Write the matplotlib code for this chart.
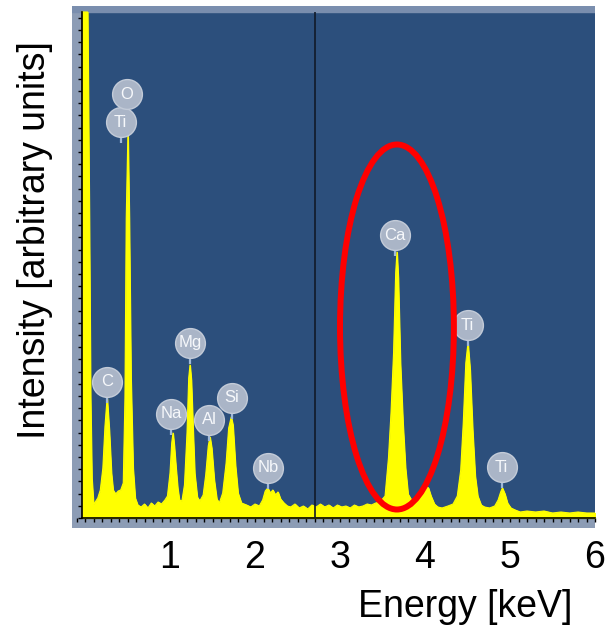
import numpy as np
import matplotlib
matplotlib.use('Agg')
import matplotlib.pyplot as plt
from matplotlib.patches import Ellipse, Rectangle
from matplotlib.ticker import FixedLocator, MultipleLocator

plt.rcParams['font.family'] = ['Liberation Sans', 'DejaVu Sans']

# EDX spectrum (energy in keV, intensity in arbitrary units)
energy = [-0.035, 0.03, 0.05, 0.065, 0.08, 0.10, 0.12,
          0.15, 0.18, 0.21, 0.235, 0.26, 0.285, 0.31, 0.33, 0.36,
          0.39, 0.42, 0.45,
          0.47, 0.485, 0.505, 0.52, 0.54, 0.565, 0.59, 0.62,
          0.66, 0.70, 0.74, 0.78, 0.82, 0.86, 0.90, 0.94,
          0.97, 1.00, 1.02, 1.035, 1.05, 1.07, 1.09, 1.11, 1.14,
          1.17, 1.20, 1.22, 1.235, 1.25, 1.27, 1.29, 1.32,
          1.35, 1.39,
          1.42, 1.45, 1.47, 1.49, 1.52, 1.55, 1.58,
          1.62, 1.66, 1.69, 1.72, 1.74, 1.77, 1.80, 1.84,
          1.90, 1.95, 2.00, 2.05,
          2.09, 2.12, 2.15, 2.18, 2.21, 2.24, 2.27, 2.30, 2.34, 2.38,
          2.42, 2.47, 2.52, 2.57, 2.62, 2.67, 2.72, 2.77, 2.82, 2.87,
          2.92, 2.97, 3.02, 3.07, 3.12, 3.17, 3.22, 3.27, 3.32, 3.37, 3.42,
          3.47, 3.53, 3.57, 3.60, 3.63, 3.655, 3.67, 3.685, 3.71, 3.74, 3.77, 3.80, 3.84,
          3.88, 3.93, 3.97, 4.01, 4.04, 4.07, 4.11, 4.15,
          4.20, 4.27, 4.33,
          4.38, 4.42, 4.45, 4.48, 4.505, 4.53, 4.56, 4.59, 4.62, 4.66,
          4.70, 4.76, 4.82,
          4.86, 4.89, 4.91, 4.94, 4.97, 5.01,
          5.06, 5.12, 5.20, 5.30, 5.40, 5.50, 5.60, 5.70, 5.80, 5.90, 6.00]
counts = [506, 506, 300, 120, 40, 14, 16,
          20, 28, 50, 92, 120, 88, 45, 28, 24,
          27, 28, 35,
          120, 300, 386, 300, 140, 50, 20, 13,
          11, 14, 10, 15, 12, 16, 14, 18,
          22, 45, 75, 85, 72, 50, 30, 18, 17,
          33, 85, 140, 153, 138, 90, 45, 21,
          17, 23,
          43, 72, 81, 70, 38, 19, 15,
          25, 55, 90, 101, 93, 52, 25, 15,
          13, 11, 14, 12,
          18, 27, 30, 25, 28, 23, 26, 19, 15, 12,
          11, 14, 10, 12, 9, 13, 11, 14, 11, 13,
          10, 13, 11, 12, 10, 13, 11, 12, 14, 13, 15,
          16, 22, 60, 105, 165, 245, 266, 240, 155, 95, 50, 24, 18,
          17, 20, 26, 32, 30, 22, 14, 11,
          10, 12, 14,
          22, 48, 95, 155, 175, 148, 88, 42, 22, 13,
          11, 10, 12,
          18, 26, 30, 24, 15, 10,
          8, 6, 7, 6, 7, 5, 6, 5, 6, 5, 5]

# element labels (position of the round tags)
label_text = ['C', 'Ti', 'O', 'Na', 'Mg', 'Al', 'Si', 'Nb', 'Ca', 'Ti', 'Ti']
label_e = [0.26, 0.42, 0.49, 1.01, 1.235, 1.46, 1.73, 2.15, 3.65, 4.50, 4.90]
label_y = [136, 396, 424, 104, 175, 98, 120, 50, 283, 193, 51]

cursor_e = 2.71
xticks = [1, 2, 3, 4, 5, 6]

fig = plt.figure(figsize=(6.09, 6.33), dpi=100)
ax = fig.add_axes([72/609, (633-528)/633, 523/609, 522/633])
ax.set_xlim(-0.153, 6.0)
ax.set_ylim(-10, 512)
ax.set_facecolor('#8c9cb5')

# blue panel + lighter top strip
ax.add_patch(Rectangle((-0.035, 0), 6.035, 506, color='#2c4f7c', zorder=0))
ax.add_patch(Rectangle((-0.153, 506), 6.153, 6, color='#7a8eae', zorder=0))

ax.fill_between(energy, 0, counts, color='#ffff00', lw=0.8, zorder=2)
ax.plot(energy, counts, color='#ffff00', lw=0.8, zorder=2)

ax.vlines(cursor_e, 0, 506, color='#111a28', lw=1.2, zorder=3)

# tags
ax.vlines(label_e, np.array(label_y) - 21, label_y, color='#9fb8d8', lw=1.6, zorder=3)
ax.scatter(label_e, label_y, s=460, color='#aab5c7', edgecolors='#c3cbd8',
           linewidths=1, zorder=4)
for t, e, y in zip(label_text, label_e, label_y):
    ax.text(e, y, t, color='#f6f8fb', fontsize=12, ha='center', va='center',
            zorder=5)

ax.add_patch(Ellipse((3.67, 191), 1.34, 365, fill=False, edgecolor='#ff0000',
                     lw=4.3, zorder=6))

# axis lines inside the grey frame
for s in ['top', 'right']:
    ax.spines[s].set_visible(False)
ax.spines['left'].set_position(('data', -0.035))
ax.spines['bottom'].set_position(('data', 0))
ax.spines['left'].set_bounds(0, 506)
ax.spines['bottom'].set_bounds(-0.035, 6.0)
ax.spines['left'].set_linewidth(1.2)
ax.spines['bottom'].set_linewidth(1.2)

ax.xaxis.set_major_locator(FixedLocator(xticks))
ax.set_xticklabels([str(v) for v in xticks])
ax.xaxis.set_minor_locator(MultipleLocator(0.1))
ax.yaxis.set_major_locator(MultipleLocator(12.2))
ax.set_yticklabels([])
ax.tick_params(axis='x', which='both', direction='out', length=3, width=1,
               pad=13, labelsize=27)
ax.tick_params(axis='y', which='both', direction='out', length=3, width=1)

ax.set_xlabel('Energy [keV]', fontsize=27)
ax.xaxis.set_label_coords((465-72)/523, -0.117)
ax.set_ylabel('Intensity [arbitrary units]', fontsize=27)
ax.yaxis.set_label_coords(-0.036, 0.552)

fig.savefig('out.png', dpi=100)
